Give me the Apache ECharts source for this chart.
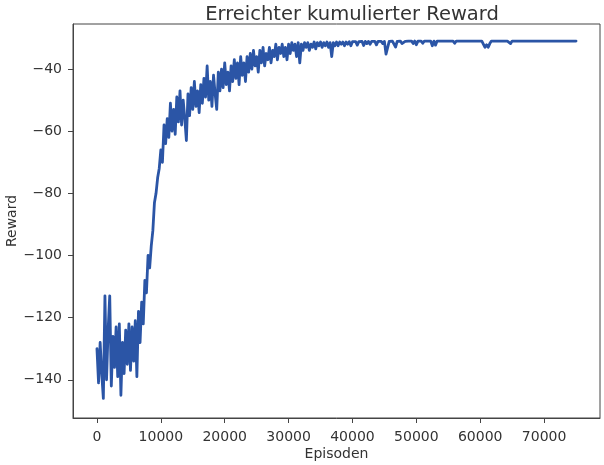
<!DOCTYPE html>
<html>
<head>
<meta charset="utf-8">
<script src="https://cdn.jsdelivr.net/npm/echarts@6/dist/echarts.min.js"></script>
<style>
html,body{margin:0;padding:0;background:#fff;}
#chart{width:604px;height:465px;}
</style>
</head>
<body>
<div id="chart"></div>
<script>
// Episodes are logged every 250 steps
const episodeStep = 250;

const rewardsEarly = [
  -130, -141, -128, -138, -146, -113, -140, -124, -113, -142,
  -126, -136, -123, -139, -122, -145, -128, -138, -124, -135,
  -122, -137, -123, -134, -121, -139, -118,
  -128, -115, -122, -108, -112, -100, -104, -97, -92, -83, -80, -75, -72
];
const rewardsRise = [
  -66, -70, -58, -64, -56, -62, -51, -60, -53, -61,
  -49, -57, -47, -58, -50, -56, -63, -48, -55, -46,
  -53, -44, -52, -47, -54, -45, -51, -43, -49, -39,
  -50, -44, -52, -42, -48, -53, -41, -47, -40, -46,
  -38, -45, -41, -47, -39, -44, -37, -43, -38, -45,
  -36, -42, -38, -44, -36, -41, -35, -40, -34, -39,
  -36, -41, -34, -38, -33, -39, -35, -37, -33, -38,
  -34, -36, -32, -37, -33, -35, -32, -36, -33, -37,
  -32, -35, -31.5, -34, -32, -36, -31.5, -38, -32, -34
];
const rewardsPlateau = [
  -31.5, -33, -31.5, -34, -32, -33, -31.3, -33.5, -31.5, -32.5,
  -31.3, -33, -31.5, -32.5, -31.3, -33, -31.5, -36, -31.5, -32.5,
  -31.3, -32.5, -31.3, -32, -31.3, -32.5, -31.3, -32, -31.2, -32.5,
  -31.2, -31.8, -31.2, -32.3, -31.2, -31.8, -31.1, -32.4, -31.1, -31.8,
  -31.1, -32, -31.1, -31.6, -31.1, -32.2, -31.1, -31.6, -31.1, -31.8,
  -31.1, -35.2, -35, -31.1, -31.3, -31.0, -31.6, -32.9, -31.1, -31.4,
  -31.0, -31.8, -32.3, -31.1, -31.5, -31.0, -31.3, -31.0, -31.8, -31.0,
  -32.2, -31.0, -31.4, -31.0, -31.7, -31.0, -31.3, -31.0, -31.6, -31.0,
  -32.5, -31.0, -32.3, -31.0, -31.2, -31.0, -31.0, -31.0, -31.6, -31.0,
  -31.5, -31.0, -31.4, -31.0, -31.7, -31.0, -31.3, -31.0, -31.0, -31.0,
  -31.6, -31.0, -31.0, -31.0, -31.0, -31.0, -31.0, -31.0, -31.0, -31.0,
  -31.0, -31.0, -31.0, -33, -32.2, -33, -31.8, -31.0, -31.0, -31.0,
  -31.0, -31.0, -31.0, -31.0, -31.0, -31.0, -31.0, -31.0, -31.0, -31.8,
  -31.0, -31.0, -31.0, -31.0, -31.0, -31.0, -31.0, -31.0, -31.0, -31.0,
  -31.0, -31.0, -31.0, -31.0, -31.0, -31.6, -31.0, -31.0, -31.0, -31.0,
  -31.0, -31.0, -31.0, -31.0, -31.0, -31.0, -31.0, -31.0, -31.0, -31.0,
  -31.0, -31.0, -31.0, -31.0, -31.0, -31.0, -31.0, -31.0, -31.0, -31.0,
  -31.0
];

// Tick labels
const xTicks = [0, 10000, 20000, 30000, 40000, 50000, 60000, 70000];
const yTicks = [-140, -120, -100, -80, -60, -40];

const titleText = 'Erreichter kumulierter Reward';
const xName = 'Episoden';
const yName = 'Reward';

const rewards = rewardsEarly.concat(rewardsRise, rewardsPlateau);
const seriesData = rewards.map((v, i) => [i * episodeStep, v]);

const font = 'DejaVu Sans';
const textColor = '#333';
const spineColor = '#444';

const chart = echarts.init(document.getElementById('chart'), null, {renderer: 'canvas'});
chart.setOption({
  animation: false,
  backgroundColor: '#fff',
  title: {
    text: titleText,
    left: 347,
    textAlign: 'center',
    top: 0,
    textStyle: {fontFamily: font, fontSize: 19.5, fontWeight: 'normal', color: textColor}
  },
  grid: {
    left: 73, right: 4, top: 24, bottom: 47,
    containLabel: false,
    outerBoundsMode: 'none',
    show: true, borderColor: spineColor, borderWidth: 1, backgroundColor: 'transparent'
  },
  xAxis: {
    type: 'value',
    min: -3750, max: 78750,
    name: xName,
    nameLocation: 'middle',
    nameGap: 29,
    nameMoveOverlap: false,
    nameTextStyle: {fontFamily: font, fontSize: 14, color: textColor},
    axisLine: {show: true, onZero: false, lineStyle: {color: spineColor, width: 1}},
    axisTick: {show: true, customValues: xTicks, length: 5, lineStyle: {color: spineColor}},
    axisLabel: {
      customValues: xTicks, margin: 12, fontFamily: font, fontSize: 14, color: textColor,
      formatter: v => String(v)
    },
    splitLine: {show: false}
  },
  yAxis: {
    type: 'value',
    min: -152.3, max: -25.5,
    name: yName,
    nameLocation: 'middle',
    nameGap: 54,
    nameRotate: 90,
    nameMoveOverlap: false,
    nameTextStyle: {fontFamily: font, fontSize: 14, color: textColor},
    axisLine: {show: true, onZero: false, lineStyle: {color: spineColor, width: 1}},
    axisTick: {show: true, customValues: yTicks, length: 5, lineStyle: {color: spineColor}},
    axisLabel: {
      customValues: yTicks, margin: 11, fontFamily: font, fontSize: 14, color: textColor,
      formatter: v => String(v).replace('-', '\u2212')
    },
    splitLine: {show: false}
  },
  series: [{
    type: 'line',
    data: seriesData,
    showSymbol: false,
    symbol: 'none',
    lineStyle: {color: '#2b55a6', width: 2.8, join: 'round', cap: 'round'},
    z: 3
  }]
});
</script>
</body>
</html>
